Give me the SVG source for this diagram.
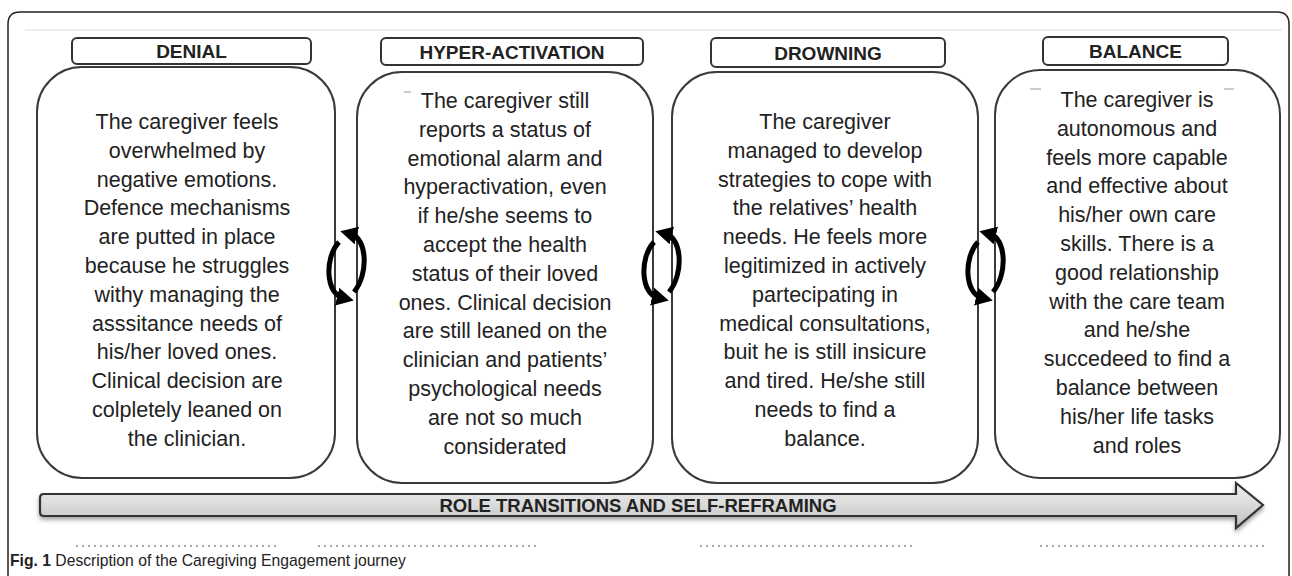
<svg xmlns="http://www.w3.org/2000/svg" width="1292" height="576" viewBox="0 0 1292 576">
<style>
.frame{fill:none;stroke:#222;stroke-width:1.5}
.hdr{fill:#fff;stroke:#333;stroke-width:2}
.hdrt{font-family:"Liberation Sans",Arial,sans-serif;font-weight:bold;font-size:19px;fill:#222;text-anchor:middle}
.card{fill:#fff;stroke:#3a3a3a;stroke-width:2}
.body{font-family:"Liberation Sans",Arial,sans-serif;font-size:21.5px;fill:#222;text-anchor:middle}
.cyc{fill:none;stroke:#000;stroke-width:5;marker-end:url(#ah)}
.dots{stroke:#8a8a8a;stroke-width:1.5;stroke-dasharray:2 4}
.art{stroke:#bbb;stroke-width:1.5}
.cap{font-family:"Liberation Sans",Arial,sans-serif;font-size:15.7px;fill:#222}
.arrt{font-family:"Liberation Sans",Arial,sans-serif;font-weight:bold;font-size:18.5px;fill:#222;text-anchor:middle}
</style>
<defs>
<marker id="ah" markerUnits="userSpaceOnUse" markerWidth="20" markerHeight="20" refX="6" refY="10" orient="auto"><path d="M0,1 L17,10 L0,19 z" fill="#000"/></marker>
<linearGradient id="ag" x1="0" y1="0" x2="0" y2="1"><stop offset="0" stop-color="#efefef"/><stop offset="0.5" stop-color="#dadada"/><stop offset="1" stop-color="#bdbdbd"/></linearGradient>
<filter id="sh" x="-5%" y="-30%" width="110%" height="180%"><feDropShadow dx="0" dy="3" stdDeviation="2" flood-color="#000" flood-opacity="0.35"/></filter>
</defs>
<path class="frame" d="M8,576 L8,24 Q8,12 20,12 L1277,12 Q1289,12 1289,24 L1289,576"/>
<line x1="25" y1="30" x2="1282" y2="30" stroke="#ddd" stroke-width="1.2"/>
<g id="denial">
<rect class="hdr" x="72" y="38" width="239" height="26" rx="5"/>
<text class="hdrt" x="191.5" y="58">DENIAL</text>
<rect class="card" x="37" y="67" width="298" height="411" rx="45"/>
<text class="body" y="129"><tspan x="187" dy="0">The caregiver feels</tspan><tspan x="187" dy="28.8">overwhelmed by</tspan><tspan x="187" dy="28.8">negative emotions.</tspan><tspan x="187" dy="28.8">Defence mechanisms</tspan><tspan x="187" dy="28.8">are putted in place</tspan><tspan x="187" dy="28.8">because he struggles</tspan><tspan x="187" dy="28.8">withy managing the</tspan><tspan x="187" dy="28.8">asssitance needs of</tspan><tspan x="187" dy="28.8">his/her loved ones.</tspan><tspan x="187" dy="28.8">Clinical decision are</tspan><tspan x="187" dy="28.8">colpletely leaned on</tspan><tspan x="187" dy="28.8">the clinician.</tspan></text>
</g>
<g id="hyper-activation">
<rect class="hdr" x="381" y="38" width="262" height="27" rx="5"/>
<text class="hdrt" x="512" y="58.5">HYPER-ACTIVATION</text>
<rect class="card" x="357" y="72" width="296" height="411" rx="45"/>
<line class="art" x1="404" y1="92" x2="411" y2="92"/><line class="art" x1="574" y1="92" x2="581" y2="92"/>
<text class="body" y="108"><tspan x="505" dy="0">The caregiver still</tspan><tspan x="505" dy="28.8">reports a status of</tspan><tspan x="505" dy="28.8">emotional alarm and</tspan><tspan x="505" dy="28.8">hyperactivation, even</tspan><tspan x="505" dy="28.8">if he/she seems to</tspan><tspan x="505" dy="28.8">accept the health</tspan><tspan x="505" dy="28.8">status of their loved</tspan><tspan x="505" dy="28.8">ones. Clinical decision</tspan><tspan x="505" dy="28.8">are still leaned on the</tspan><tspan x="505" dy="28.8">clinician and patients’</tspan><tspan x="505" dy="28.8">psychological needs</tspan><tspan x="505" dy="28.8">are not so much</tspan><tspan x="505" dy="28.8">considerated</tspan></text>
</g>
<g id="drowning">
<rect class="hdr" x="711" y="38" width="234" height="29" rx="5"/>
<text class="hdrt" x="828" y="59.5">DROWNING</text>
<rect class="card" x="672" y="72" width="306" height="411" rx="45"/>
<text class="body" y="129"><tspan x="825" dy="0">The caregiver</tspan><tspan x="825" dy="28.8">managed to develop</tspan><tspan x="825" dy="28.8">strategies to cope with</tspan><tspan x="825" dy="28.8">the relatives’ health</tspan><tspan x="825" dy="28.8">needs. He feels more</tspan><tspan x="825" dy="28.8">legitimized in actively</tspan><tspan x="825" dy="28.8">partecipating in</tspan><tspan x="825" dy="28.8">medical consultations,</tspan><tspan x="825" dy="28.8">buit he is still insicure</tspan><tspan x="825" dy="28.8">and tired. He/she still</tspan><tspan x="825" dy="28.8">needs to find a</tspan><tspan x="825" dy="28.8">balance.</tspan></text>
</g>
<g id="balance">
<rect class="hdr" x="1043" y="37" width="185" height="28" rx="5"/>
<text class="hdrt" x="1135.5" y="58">BALANCE</text>
<rect class="card" x="995" y="70" width="285" height="408" rx="45"/>
<line class="art" x1="1030" y1="89" x2="1041" y2="89"/><line class="art" x1="1224" y1="89" x2="1234" y2="89"/>
<text class="body" y="107"><tspan x="1137" dy="0">The caregiver is</tspan><tspan x="1137" dy="28.8">autonomous and</tspan><tspan x="1137" dy="28.8">feels more capable</tspan><tspan x="1137" dy="28.8">and effective about</tspan><tspan x="1137" dy="28.8">his/her own care</tspan><tspan x="1137" dy="28.8">skills. There is a</tspan><tspan x="1137" dy="28.8">good relationship</tspan><tspan x="1137" dy="28.8">with the care team</tspan><tspan x="1137" dy="28.8">and he/she</tspan><tspan x="1137" dy="28.8">succedeed to find a</tspan><tspan x="1137" dy="28.8">balance between</tspan><tspan x="1137" dy="28.8">his/her life tasks</tspan><tspan x="1137" dy="28.8">and roles</tspan></text>
</g>
<g id="connectors">
<path class="cyc" d="M354,292 C369,274 367,238 351,234"/>
<path class="cyc" d="M339,242 C324,258 326,294 343,298"/>
<path class="cyc" d="M669,292 C684,274 682,238 666,234"/>
<path class="cyc" d="M654,242 C639,258 641,294 658,298"/>
<path class="cyc" d="M993,292 C1008,274 1006,238 990,234"/>
<path class="cyc" d="M978,242 C963,258 965,294 982,298"/>
</g>
<g id="transition-arrow">
<path d="M44,494 L1236,494 L1236,483 L1263,505 L1236,528 L1236,516 L44,516 Q40,516 40,512 L40,498 Q40,494 44,494 Z" fill="url(#ag)" stroke="#333" stroke-width="2.2" stroke-linejoin="miter" filter="url(#sh)"/>
<text class="arrt" x="638" y="511.5">ROLE TRANSITIONS AND SELF-REFRAMING</text>
</g>
<line class="dots" x1="76" y1="546" x2="278" y2="546"/>
<line class="dots" x1="318" y1="546" x2="538" y2="546"/>
<line class="dots" x1="700" y1="546" x2="912" y2="546"/>
<line class="dots" x1="1040" y1="546" x2="1268" y2="546"/>
<text class="cap" x="10" y="566"><tspan font-weight="bold">Fig. 1</tspan> Description of the Caregiving Engagement journey</text>
</svg>
